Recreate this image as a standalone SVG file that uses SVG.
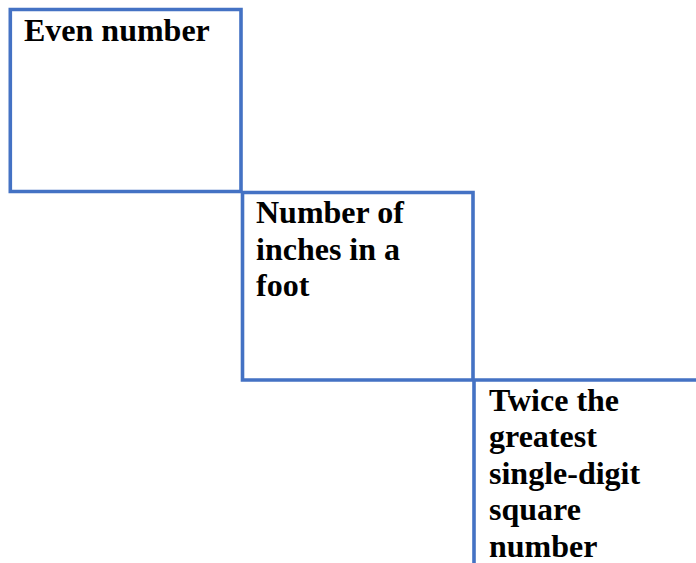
<svg xmlns="http://www.w3.org/2000/svg" width="696" height="563" viewBox="0 0 696 563">
<style>
.b{fill:none;stroke:#4472C4;stroke-width:3.6;stroke-linecap:square}
.t{font-family:"Liberation Serif","Times New Roman",serif;font-weight:bold;font-size:32px;fill:#000}
</style>
<rect width="696" height="563" fill="#fff"/>
<g id="connectors"></g>
<g id="box1">
<path class="b" d="M10.3,9.5 H241 V191.5 H10.3 Z"/>
<text class="t" x="24" y="40.5">Even number</text>
</g>
<g id="box2">
<path class="b" d="M242.5,192.5 H473 V380 H242.5 Z"/>
<text class="t" x="256" y="223.3">Number of</text>
<text class="t" x="256" y="259.8">inches in a</text>
<text class="t" x="256" y="296.3">foot</text>
</g>
<g id="box3">
<path class="b" d="M474,565 V380 H698" style="stroke-linecap:butt"/>
<text class="t" x="489" y="410.7">Twice the</text>
<text class="t" x="489" y="447.2">greatest</text>
<text class="t" x="489" y="483.7">single-digit</text>
<text class="t" x="489" y="520.2">square</text>
<text class="t" x="489" y="556.7">number</text>
</g>
</svg>
